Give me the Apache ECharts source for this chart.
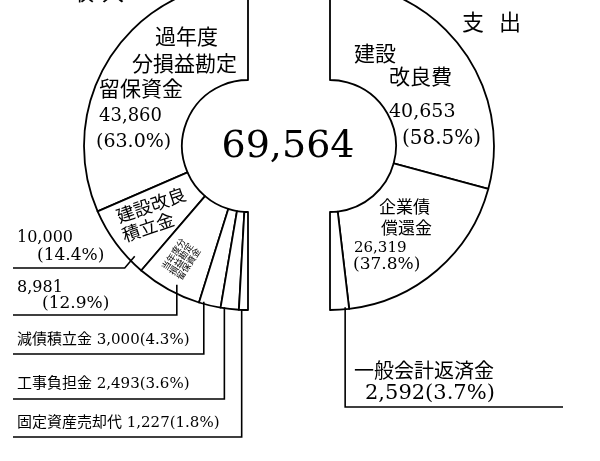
<!DOCTYPE html>
<html><head><meta charset="utf-8">
<script src="https://cdn.jsdelivr.net/npm/echarts@6/dist/echarts.min.js"></script>
<style>html,body{margin:0;padding:0;background:#fff}#c{width:600px;height:461px}</style>
</head><body><div id="c"></div>
<script>
// ---- data ----
const totalLabel = '69,564';
const incomeNames = ['過年度分損益勘定留保資金', '建設改良積立金', '当年度分損益勘定留保資金', '減債積立金', '工事負担金', '固定資産売却代'];
const incomeValues = [43860, 10000, 8981, 3000, 2493, 1227];
const incomePct = ['63.0%', '14.4%', '12.9%', '4.3%', '3.6%', '1.8%'];
const expenseNames = ['建設改良費', '企業債償還金', '一般会計返済金'];
const expenseValues = [40653, 26319, 2592];
const expensePct = ['58.5%', '37.8%', '3.7%'];

// ---- layout ----
const L = {cx: 248, cy: 146}, R = {cx: 330, cy: 146};
const R0 = 66, R1 = 164;
const SERIF = '"DejaVu Serif", "Noto Sans CJK JP"';
const CJK = '"Noto Sans CJK JP"';
const fmt = v => v.toLocaleString('en-US');
const sum = a => a.reduce((s, v) => s + v, 0);

// point inside slice i, at fraction f of its span and radius r
function slicePoint(values, i, f, r, side) {
  const tot = sum(values);
  const cum = sum(values.slice(0, i)) + f * values[i];
  const c = side === 'L' ? L : R;
  const deg = side === 'L' ? 90 + cum / tot * 180 : 90 - cum / tot * 180;
  const a = deg * Math.PI / 180;
  return [c.cx + r * Math.cos(a), c.cy - r * Math.sin(a)];
}

const g = [];
function txt(text, x, y, size, family, align, rot) {
  g.push({type: 'text', z: 100, x: x, y: y, rotation: (rot || 0) * Math.PI / 180, silent: true,
    style: {text: text, x: 0, y: 0, font: size + 'px ' + family, fill: '#000',
      textAlign: align || 'left', textVerticalAlign: 'middle', align: align || 'left', verticalAlign: 'middle'}});
}
function line(points) {
  g.push({type: 'polyline', z: 100, silent: true, shape: {points: points},
    style: {stroke: '#000', lineWidth: 1.6, fill: null}});
}

// titles
txt('収', 83, -8, 22, CJK, 'center');
txt('入', 113, -8, 22, CJK, 'center');
txt('支', 473, 22, 22, CJK, 'center');
txt('出', 510, 22, 22, CJK, 'center');
// centre total
txt(totalLabel, 288, 147, 38, SERIF, 'center');

// income big slice
txt('過年度', 155, 36, 21, CJK);
txt('分損益勘定', 132, 63, 21, CJK);
txt('留保資金', 99, 88, 21, CJK);
txt(fmt(incomeValues[0]), 99, 116, 18, SERIF);
txt('(' + incomePct[0] + ')', 96, 142, 19, SERIF);
// income slice 1 inner name (rotated)
txt('建設改良', 151, 205, 18, CJK, 'center', 19);
txt('積立金', 148, 227, 18, CJK, 'center', 19);
// income slice 2 inner name (tiny, rotated)
txt('当年度分\n損益勘定\n留保資金', 181, 259, 9, CJK, 'center', 57);

// income outside labels with leader lines
const inLab = [
  null,
  {f: 0.8, r: 158, dx: -10, ly: 268, lines: [[fmt(incomeValues[1]), 17, 238, 16], ['(' + incomePct[1] + ')', 37, 256, 17]]},
  {f: 0.58, r: 156, dx: 0, ly: 315, lines: [[fmt(incomeValues[2]), 17, 288, 16], ['(' + incomePct[2] + ')', 42, 304, 17]]},
  {f: 0.2, r: 162, dx: 0, ly: 354, lines: [[incomeNames[3] + ' ' + fmt(incomeValues[3]) + '(' + incomePct[3] + ')', 17, 340, 15]]},
  {f: 0.2, r: 163, dx: 0, ly: 399, lines: [[incomeNames[4] + ' ' + fmt(incomeValues[4]) + '(' + incomePct[4] + ')', 17, 384, 15]]},
  {f: 0.3, r: 163, dx: 0, ly: 437, lines: [[incomeNames[5] + ' ' + fmt(incomeValues[5]) + '(' + incomePct[5] + ')', 17, 423, 15]]}
];
inLab.forEach((o, i) => {
  if (!o) return;
  const p = slicePoint(incomeValues, i, o.f, o.r, 'L');
  line([p, [p[0] + o.dx, o.ly], [13, o.ly]]);
  o.lines.forEach(t => txt(t[0], t[1], t[2], t[3], SERIF));
});

// expense labels
txt('建設', 354, 53, 21, CJK);
txt('改良費', 389, 76, 21, CJK);
txt(fmt(expenseValues[0]), 389, 112, 19, SERIF);
txt('(' + expensePct[0] + ')', 402, 139, 20, SERIF);

txt('企業債', 379, 207, 17, CJK);
txt('償還金', 381, 228, 17, CJK);
txt(fmt(expenseValues[1]), 354, 248, 15, SERIF);
txt('(' + expensePct[1] + ')', 353, 265, 17, SERIF);

(function () {
  const p = slicePoint(expenseValues, 2, 0.2, 162, 'R');
  line([p, [p[0], 407], [563, 407]]);
  txt(expenseNames[2], 354, 370, 20, CJK);
  txt(fmt(expenseValues[2]) + '(' + expensePct[2] + ')', 365, 394, 21, SERIF);
})();

const pieBase = {
  type: 'pie', radius: [R0, R1], silent: true, animation: false,
  label: {show: false}, labelLine: {show: false}, emphasis: {disabled: true},
  itemStyle: {color: '#fff', borderColor: '#000', borderWidth: 1.8}
};

const chart = echarts.init(document.getElementById('c'), null, {renderer: 'canvas'});
chart.setOption({
  backgroundColor: '#fff',
  animation: false,
  series: [
    Object.assign({}, pieBase, {center: [L.cx, L.cy], startAngle: 90, endAngle: 270, clockwise: false,
      data: incomeNames.map((n, i) => ({name: n, value: incomeValues[i]}))}),
    Object.assign({}, pieBase, {center: [R.cx, R.cy], startAngle: 90, endAngle: -90, clockwise: true,
      data: expenseNames.map((n, i) => ({name: n, value: expenseValues[i]}))})
  ],
  graphic: g
});
</script>
</body></html>
